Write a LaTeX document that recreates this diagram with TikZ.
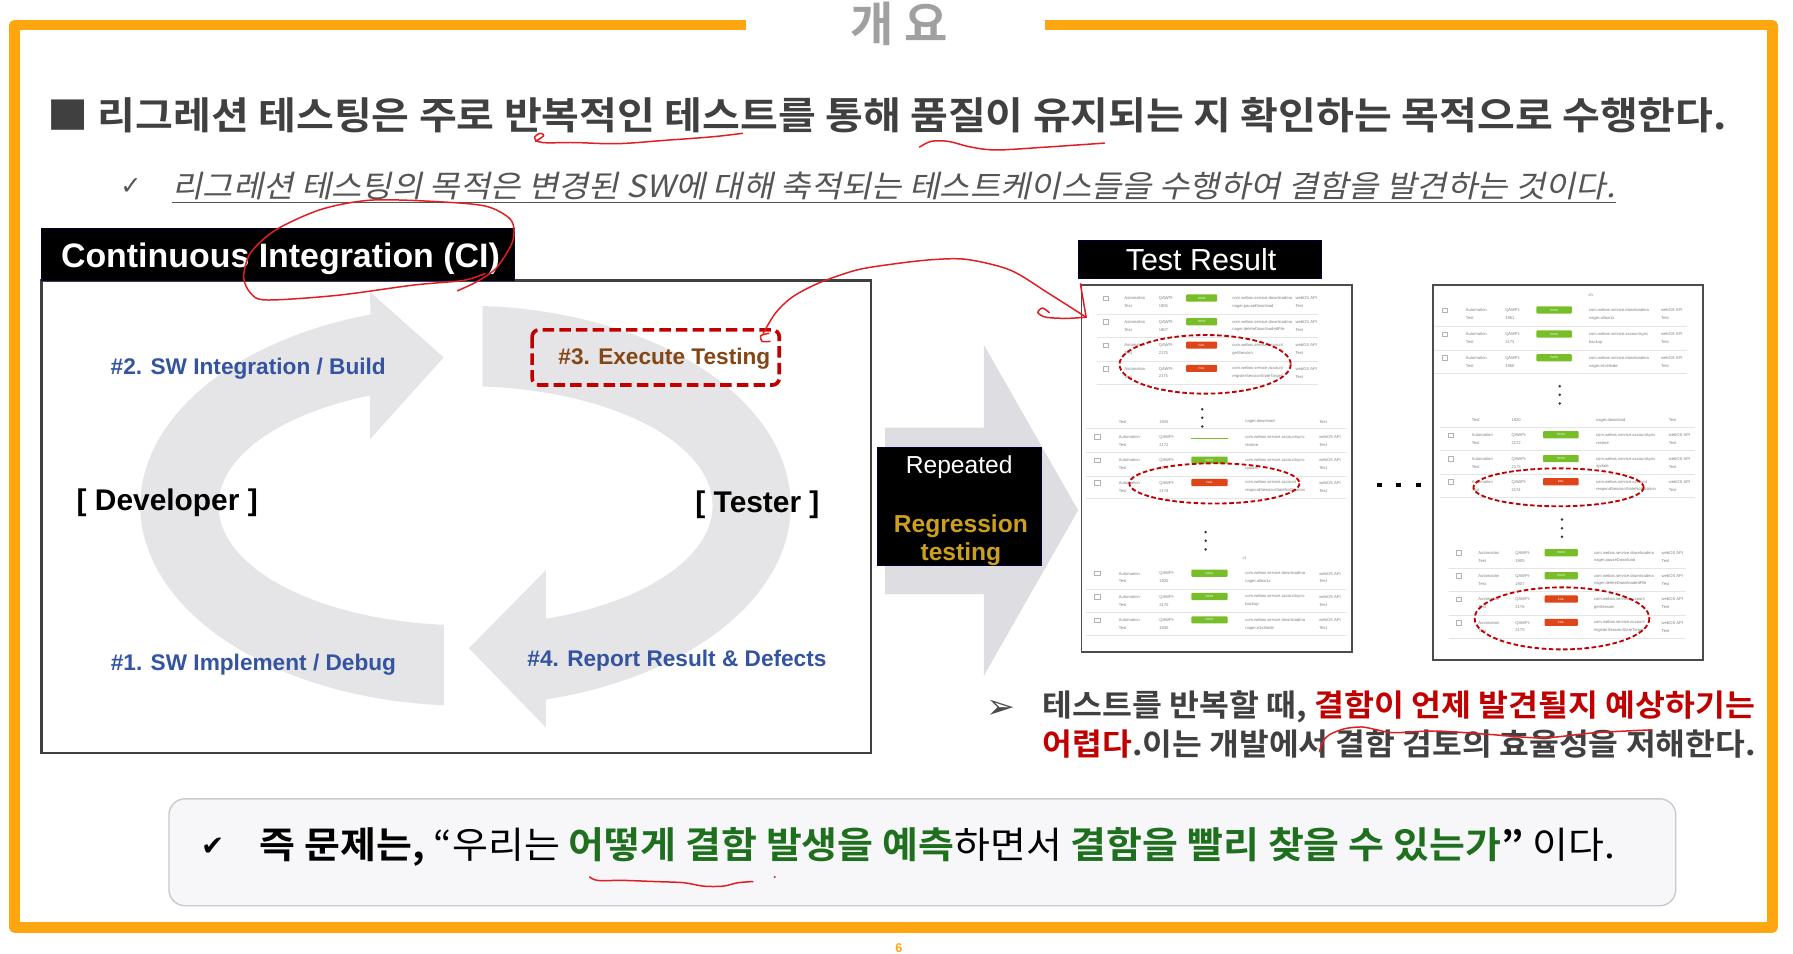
\documentclass[tikz,border=0pt]{standalone}
\usepackage{fontspec}
\setmainfont{Liberation Sans}
\newfontfamily\kr{Noto Sans CJK KR}[BoldFont={Noto Sans CJK KR Bold}]
\newfontfamily\krit{Noto Sans CJK KR}[FakeSlant=0.2]
\newfontfamily\djv{DejaVu Sans}
\definecolor{orng}{RGB}{253,166,16}
\definecolor{ttl}{RGB}{160,160,160}
\definecolor{hd}{RGB}{64,64,64}
\definecolor{subc}{RGB}{85,85,85}
\definecolor{lblue}{RGB}{52,84,160}
\definecolor{brn}{RGB}{132,70,20}
\definecolor{dred}{RGB}{192,0,0}
\definecolor{goldc}{RGB}{204,160,30}
\definecolor{grn}{RGB}{30,112,30}
\definecolor{penred}{RGB}{225,30,35}
\definecolor{cyc}{RGB}{229,229,232}
\definecolor{bigarr}{RGB}{222,222,226}
\definecolor{passc}{RGB}{120,190,40}
\definecolor{failc}{RGB}{222,70,25}
\definecolor{boxfill}{RGB}{247,246,249}
\definecolor{boxline}{RGB}{200,200,206}
\tikzset{
  lbl/.style={font=\bfseries\fontsize{19.7}{22}\selectfont, text=lblue, anchor=base, inner sep=0},
  role/.style={font=\bfseries\fontsize{26}{28}\selectfont, anchor=base, inner sep=0},
  pen/.style={draw=penred, line width=1.3, line cap=round, line join=round},
  rowtxt/.style={font=\fontsize{3.6}{6.8}\selectfont, text=black!50, align=left, anchor=west, inner sep=0},
  badgetxt/.style={font=\fontsize{2.6}{3}\selectfont, text=white, inner sep=0},
  redell/.style={draw=dred, line width=1.6, dash pattern=on 4pt off 2.2pt},
  sheet/.style={draw=black!70, line width=1.6, fill=white},
  blackbox/.style={fill=black, draw=black!80!blue, line width=0.8},
  dotc/.style={fill=black!80},
}
\newcommand\badge[1]{%
  \ifx P#1\fill[passc, rounded corners=0.8pt] (70,-6.8) rectangle (97,-0.6);
    \node[badgetxt] at (83.5,-3.7) {PASS};\fi
  \ifx F#1\fill[failc, rounded corners=0.8pt] (70,-6.8) rectangle (97,-0.6);
    \node[badgetxt] at (83.5,-3.7) {FAIL};\fi
  \ifx L#1\draw[passc, line width=0.8] (70,-2) -- (97,-2);\fi}
\newcommand\trow[7]{%
  \begin{scope}[shift={(#1,#2)}, xscale=#3]
    \draw[black!30, line width=0.4] (-2,-5.5) rectangle (2,-1.5);
    \node[rowtxt] at (16,0) {Automation\\Test};
    \node[rowtxt] at (46,0) {QAWPI-\\#5};
    \badge{#4}
    \node[rowtxt] at (110,0) {#6\\#7};
    \node[rowtxt] at (165,0) {webOS API\\Test};
    \draw[black!10, line width=0.4] (-8,10) -- (185,10);
  \end{scope}}
\newcommand\thead[3]{%
  \begin{scope}[shift={(#1,#2)}, xscale=#3]
    \node[rowtxt] at (16,0) {Test};
    \node[rowtxt] at (46,0) {1920};
    \node[rowtxt] at (110,0) {nager.download};
    \node[rowtxt] at (165,0) {Test};
    \draw[black!10, line width=0.4] (-8,6) -- (185,6);
  \end{scope}}
\newcommand\threedots[2]{%
  \fill[dotc] (#1,#2) circle (1.2); \fill[dotc] (#1,#2+7.5) circle (1.2); \fill[dotc] (#1,#2+15) circle (1.2);}
\begin{document}
\begin{tikzpicture}[x=1pt,y=-1pt]
\useasboundingbox (0,0) rectangle (1560,829.2);
\fill[white] (0,0) rectangle (1560,829.2);

% orange frame
\draw[orng, line width=9, line join=round] (649,22) -- (12.5,22) -- (12.5,807) -- (1542,807) -- (1542,22) -- (909,22);
\node[text=ttl, font=\kr\bfseries\fontsize{41}{44}\selectfont] (title) at (782,21) {개 요};
\node[text=orng, font=\bfseries\fontsize{11}{11}\selectfont, anchor=south, inner sep=0.5] (pgno) at (782,829.2) {6};

% heading
\node[anchor=west, inner sep=0, text=hd, font=\kr\bfseries\fontsize{33}{38}\selectfont] (head) at (41,100)
  {\scalebox{1.084}[1]{■ 리그레션 테스팅은 주로 반복적인 테스트를 통해 품질이 유지되는 지 확인하는 목적으로 수행한다.}};
\node[text=subc, font=\djv\fontsize{22}{24}\selectfont, inner sep=0] (chk1) at (114,162) {✓};
\node[anchor=west, inner sep=0, text=subc, font=\krit\fontsize{26.7}{30}\selectfont] (sub) at (150,162)
  {\scalebox{1.074}[1]{리그레션 테스팅의 목적은 변경된 SW에 대해 축적되는 테스트케이스들을 수행하여 결함을 발견하는 것이다.}};
\draw[subc, line width=1.2] ([yshift=-4pt]sub.base west) -- ([yshift=-4pt]sub.base east);

% CI box
\draw[black!75, line width=2] (36,244) rectangle (758,655);
\fill[blackbox] (36,199) rectangle (448,244);
\node[anchor=base, inner sep=0, text=white, font=\bfseries\fontsize{29.5}{32}\selectfont] (ci) at (244,233) {Continuous Integration (CI)};

% cycle arrows
\fill[cyc] plot[domain=93.8:253, samples=70] ({405+283*cos(\x)},{440+174*sin(\x)})
  -- (322,254) -- (386,311) -- (322,382) -- (322,344)
  -- plot[domain=247.3:95, samples=70] ({405+215*cos(\x)},{440+104*sin(\x)}) -- cycle;
\fill[cyc] plot[domain=273:435.7, samples=70] ({405+283*cos(\x)},{440+174*sin(\x)})
  -- (475,633) -- (408,564) -- (475,496) -- (475,538)
  -- plot[domain=431:274, samples=70] ({405+215*cos(\x)},{440+104*sin(\x)}) -- cycle;

\node[lbl] (s2) at (216,326) {\#2. SW Integration / Build};
\draw[dred, line width=3.2, dash pattern=on 10pt off 4.5pt, rounded corners=6] (463,287) rectangle (678,335);
\node[lbl, text=brn] (s3) at (578,317) {\#3. Execute Testing};
\node[role] (dev) at (145.5,444) {[ Developer ]};
\node[role] (tst) at (659,446) {[ Tester ]};
\node[lbl] (s1) at (220.5,583) {\#1. SW Implement / Debug};
\node[lbl] (s4) at (589,580) {\#4. Report Result \& Defects};

% big arrow + repeated box
\fill[bigarr] (770,372) -- (856,372) -- (856,300) -- (938,444) -- (856,588) -- (856,517) -- (770,517) -- cycle;
\fill[blackbox] (763,389) rectangle (906,492);
\node[anchor=base, inner sep=0, text=white, font=\fontsize{21.4}{24}\selectfont] (rep) at (834.5,412) {Repeated};
\node[anchor=base, inner sep=0, text=goldc, font=\bfseries\fontsize{21.4}{24}\selectfont] (reg1) at (836,463) {Regression};
\node[anchor=base, inner sep=0, text=goldc, font=\bfseries\fontsize{21.4}{24}\selectfont] (reg2) at (836,488) {testing};

\begin{scope}[shift={(-3,0)}]
% test result header
\fill[blackbox] (941,209) rectangle (1153,242);
\node[anchor=base, inner sep=0, text=white, font=\fontsize{26.5}{28}\selectfont] (tr) at (1048,235) {Test Result};

% sheet 1
\draw[sheet] (944,248) rectangle (1179,567);
\trow{965}{263}{1}{P}{1905}{com.webos.service.downloadma}{nager.pauseDownload}
\trow{965}{283.6}{1}{P}{1907}{com.webos.service.downloadma}{nager.deleteDownloadedFile}
\trow{965}{304}{1}{F}{2175}{com.webos.service.account}{getSession}
\trow{965}{324.2}{1}{F}{2175}{com.webos.service.account}{registerSessionStateTarget}
\threedots{1049}{356}
\thead{957.6}{367}{1.17}
\trow{957.6}{383.5}{1.17}{L}{2172}{com.webos.service.accountsync}{restore}
\trow{957.6}{404}{1.17}{P}{2173}{com.webos.service.accountsync}{update}
\trow{957.6}{423.5}{1.17}{F}{2174}{com.webos.service.account}{respondSessionStateNotification}
\threedots{1052}{463}
\node[rowtxt] (ct1) at (1084,486) {ct};
\trow{957.6}{502.4}{1.17}{P}{1920}{com.webos.service.downloadma}{nager.allow1x}
\trow{957.6}{522.7}{1.17}{P}{2170}{com.webos.service.accountsync}{backup}
\trow{957.6}{543}{1.17}{P}{1930}{com.webos.service.downloadma}{nager.e1xMode}
\draw[redell] (1051.5,317) ellipse [x radius=74.5, y radius=25.5];
\draw[redell] (1059.6,420.6) ellipse [x radius=74, y radius=17.5];

% dots between sheets
\fill[black] (1201,420) rectangle (1205,424);
\fill[black] (1218,420) rectangle (1222,424);
\fill[black] (1235,420) rectangle (1239,424);

% sheet 2
\draw[sheet] (1250,248) rectangle (1485,574);
\node[rowtxt] (ch2) at (1385,257) {ch};
\trow{1260}{273.4}{1.14}{P}{1951}{com.webos.service.downloadma}{nager.allow1x}
\trow{1260}{294.3}{1.14}{P}{2173}{com.webos.service.accountsync}{backup}
\trow{1260}{315}{1.14}{P}{1950}{com.webos.service.downloadma}{nager.e1xMode}
\threedots{1360}{336}
\thead{1265}{365.8}{1.15}
\trow{1265}{382}{1.15}{P}{2172}{com.webos.service.accountsync}{restore}
\trow{1265}{402.7}{1.15}{P}{2173}{com.webos.service.accountsync}{update}
\trow{1265}{422.8}{1.15}{F}{2174}{com.webos.service.account}{respondSessionStateNotification}
\threedots{1362}{452}
\trow{1272}{484.6}{1.07}{P}{1905}{com.webos.service.downloadma}{nager.pauseDownload}
\trow{1272}{504.6}{1.07}{P}{1907}{com.webos.service.downloadma}{nager.deleteDownloadedFile}
\trow{1272}{524.9}{1.07}{F}{2176}{com.webos.service.account}{getSession}
\trow{1272}{545.2}{1.07}{F}{2175}{com.webos.service.account}{registerSessionStateTarget}
\draw[redell] (1359,424) ellipse [x radius=74, y radius=16.5];
\draw[redell] (1362,538) ellipse [x radius=76, y radius=27];
\end{scope}

% bottom right text
\node[text=black!70, font=\djv\fontsize{30}{32}\selectfont, inner sep=0] (bul) at (871,617) {➢};
\node[anchor=west, inner sep=0, text=hd, font=\kr\bfseries\fontsize{26.6}{30}\selectfont] (br1) at (907,615)
  {\scalebox{1.063}[1]{테스트를 반복할 때, \textcolor{dred}{결함이 언제 발견될지 예상하기는}}};
\node[anchor=west, inner sep=0, text=hd, font=\kr\bfseries\fontsize{26.6}{30}\selectfont] (br2) at (907,647)
  {\scalebox{1.059}[1]{\textcolor{dred}{어렵다}.이는 개발에서 결함 검토의 효율성을 저해한다.}};

% bottom box
\draw[fill=boxfill, draw=boxline, line width=1.2, rounded corners=14] (147,695) rectangle (1458,788);
\node[text=black, font=\djv\fontsize{24}{26}\selectfont, inner sep=0] (chk2) at (185,737) {✔};
\node[anchor=west, inner sep=0, text=black, font=\kr\fontsize{32}{36}\selectfont] (bx) at (226,737)
  {\scalebox{1.061}[1]{\textbf{즉 문제는,} “우리는 \textcolor{grn}{\textbf{어떻게 결함 발생을 예측}}하면서 \textcolor{grn}{\textbf{결함을 빨리 찾을 수 있는가}}\textbf{”} 이다.}};

% red pen annotations
\draw[pen] plot[smooth, tension=0.6] coordinates {(466,123) (473,118) (470,116) (465,120) (472,124) (500,124) (537,125) (580,122) (620,119) (646,116)};
\draw[pen] plot[smooth] coordinates {(800,128) (810,123) (825,123) (845,128) (867,130.5) (910,128) (961,124.5)};
\draw[pen] plot[smooth] coordinates {(398,253) (415,245) (432,233) (446,210) (445,192) (425,180) (390,176) (325,174) (280,182) (240,200) (218,220) (212,241) (218,255) (232,261) (293,257) (360,248) (403,244) (422,238)};
\draw[pen] plot[smooth] coordinates {(664,290) (675,272) (690,258) (713,246) (745,235) (775,230) (810,226) (841,225.7) (879,235) (912,255) (945,276)};
\draw[pen] (945,276) -- (940,247);
\draw[pen] plot[smooth] coordinates {(945,276) (928,277) (910,276) (903,272) (907,268) (913,272)};
\draw[pen] plot[smooth] coordinates {(669,290) (662,292) (663,297) (670,297)};
\draw[pen] plot[smooth] coordinates {(1148,654) (1151,645) (1157,639) (1170,634) (1185,632.5) (1198,635) (1213,637.5) (1249,636) (1296,639) (1342,642) (1388,637.5) (1437,635)};
\draw[pen] plot[smooth] coordinates {(513,763) (520,766) (543,766) (570,767) (595,768) (612,771) (629,771) (642,768) (655,767)};
\fill[penred] (674,763) circle (1);
\end{tikzpicture}
\end{document}
